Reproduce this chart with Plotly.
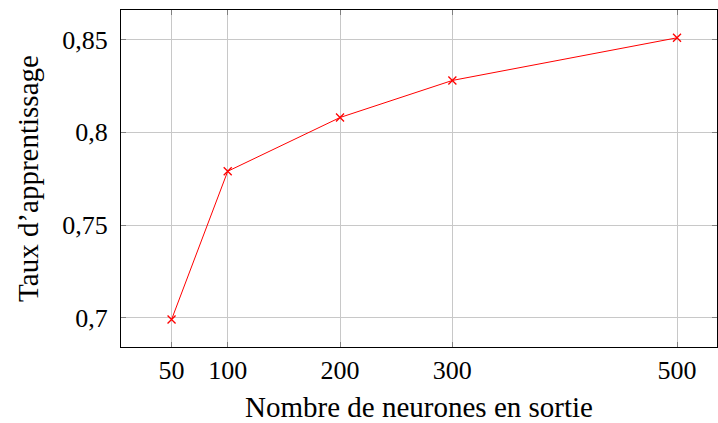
import plotly.graph_objects as go

neurones = [50, 100, 200, 300, 500]
taux = [0.699, 0.779, 0.808, 0.828, 0.851]

x_ticks = [50, 100, 200, 300, 500]
y_ticks = [0.7, 0.75, 0.8, 0.85]
y_ticktext = ["0,7", "0,75", "0,8", "0,85"]

font = "Liberation Serif, Times New Roman, serif"

fig = go.Figure()
fig.add_trace(go.Scatter(
    x=neurones, y=taux, mode="lines+markers",
    line=dict(color="red", width=1),
    marker=dict(symbol="x-thin", size=8, line=dict(color="red", width=1.3), color="red"),
    showlegend=False,
))

fig.update_layout(
    width=718, height=423,
    margin=dict(l=121, r=1, t=10, b=76),
    paper_bgcolor="white", plot_bgcolor="white",
    font=dict(family=font, size=26, color="black"),
    separators=", ",
)
fig.update_xaxes(
    range=[5, 535.6], tickvals=x_ticks, ticktext=[str(v) for v in x_ticks],
    showgrid=True, gridcolor="#c8c8c8", gridwidth=1,
    showline=True, linecolor="black", linewidth=1.2, mirror="ticks",
    ticks="inside", ticklen=5, tickcolor="#808080", tickwidth=1,
    zeroline=False, ticklabelstandoff=0,
    title=dict(text="Nombre de neurones en sortie", font=dict(family=font, size=29), standoff=12),
    tickfont=dict(family=font, size=26),
)
fig.update_yaxes(
    range=[0.6842, 0.866], tickvals=y_ticks, ticktext=y_ticktext,
    showgrid=True, gridcolor="#c8c8c8", gridwidth=1,
    showline=True, linecolor="black", linewidth=1.2, mirror="ticks",
    ticks="inside", ticklen=5, tickcolor="#808080", tickwidth=1,
    zeroline=False, ticklabelstandoff=7,
    title=dict(text="Taux d’apprentissage", font=dict(family=font, size=29), standoff=15),
    tickfont=dict(family=font, size=26),
)

fig.write_html(
    "out.html",
    config={"displayModeBar": False},
    post_script="document.body.style.margin='0';document.body.style.overflow='hidden';",
)
